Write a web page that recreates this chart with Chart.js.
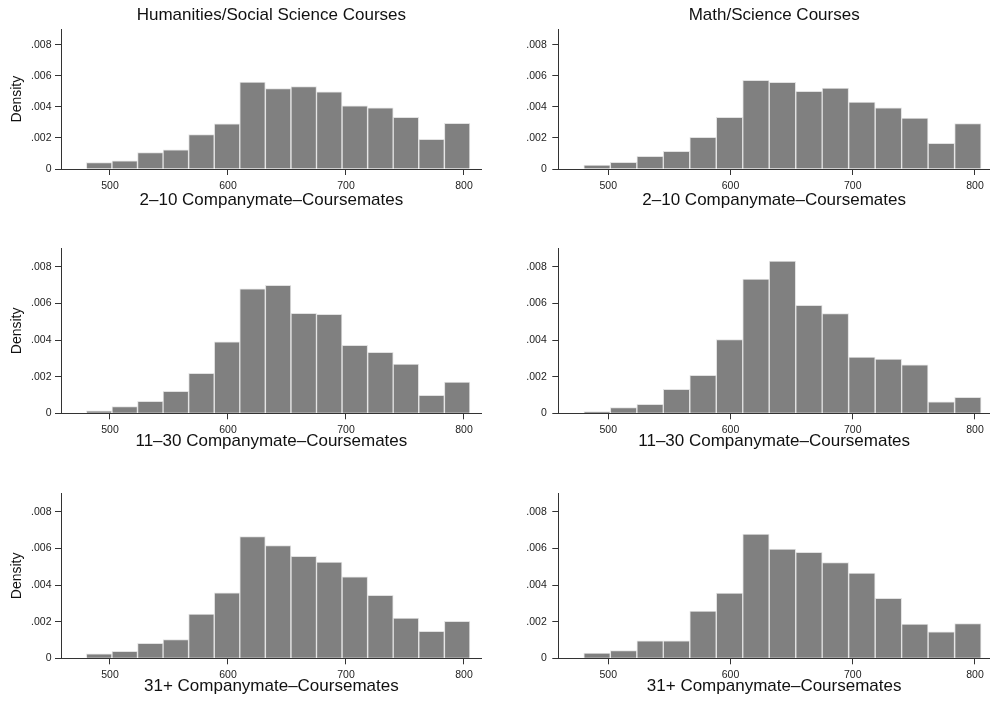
<!DOCTYPE html>
<html>
<head>
<meta charset="utf-8">
<script src="https://cdn.jsdelivr.net/npm/chart.js@4.4.1/dist/chart.umd.min.js"></script>
<style>
body { margin: 0; background: #fff; }
#wrap { position: relative; width: 990px; height: 702px; overflow: hidden; }
.cell { position: absolute; }
</style>
</head>
<body>
<div id="wrap"></div>
<script>
// histogram bins (midpoints, ~21.7 points wide, 480 to 805)
var binMid = [490.8, 512.5, 534.2, 555.8, 577.5, 599.2, 620.8, 642.5, 664.2, 685.8, 707.5, 729.2, 750.8, 772.5, 794.2];

// densities
var humSmall  = [0.00041, 0.00052, 0.00105, 0.00124, 0.00221, 0.00290, 0.00560, 0.00517, 0.00530, 0.00496, 0.00406, 0.00393, 0.00333, 0.00191, 0.00294];
var mathSmall = [0.00026, 0.00043, 0.00082, 0.00114, 0.00204, 0.00333, 0.00571, 0.00558, 0.00500, 0.00521, 0.00431, 0.00393, 0.00328, 0.00165, 0.00292];
var humMid    = [0.00013, 0.00036, 0.00065, 0.00120, 0.00218, 0.00390, 0.00680, 0.00698, 0.00545, 0.00540, 0.00371, 0.00333, 0.00269, 0.00098, 0.00171];
var mathMid   = [0.00009, 0.00031, 0.00049, 0.00131, 0.00207, 0.00402, 0.00733, 0.00831, 0.00589, 0.00544, 0.00307, 0.00296, 0.00264, 0.00062, 0.00087];
var humLarge  = [0.00024, 0.00038, 0.00082, 0.00102, 0.00242, 0.00358, 0.00664, 0.00615, 0.00556, 0.00525, 0.00445, 0.00344, 0.00220, 0.00147, 0.00202];
var mathLarge = [0.00029, 0.00042, 0.00095, 0.00096, 0.00258, 0.00356, 0.00678, 0.00596, 0.00578, 0.00522, 0.00465, 0.00327, 0.00187, 0.00145, 0.00189];

var xTicks = [500, 600, 700, 800];
var yTicks = [0, 0.002, 0.004, 0.006, 0.008];
var yTickLabels = ['0', '.002', '.004', '.006', '.008'];

var colTitles = ['Humanities/Social Science Courses', 'Math/Science Courses'];
var rowTitles = ['2\u201310 Companymate\u2013Coursemates', '11\u201330 Companymate\u2013Coursemates', '31+ Companymate\u2013Coursemates'];

var FONT = '"Liberation Sans", Arial, Helvetica, sans-serif';

// layout of the 3x2 grid
var rowTop = [0, 235, 480];
var rowH = [215, 220, 222];
var axisH = [46, 41.7, 43.7];
var xTitlePad = [4.6, 3.8, 5.8];
var colLeft = [0, 495];
var yAxisW = [61, 63.3];
var yTickPad = [3.5, 5.5];
var padRight = [13.3, 0];
var xMin = [458.5, 459.1];
var xMax = [815, 812.3];

var panels = [
    { row: 0, col: 0, values: humSmall },
    { row: 0, col: 1, values: mathSmall },
    { row: 1, col: 0, values: humMid },
    { row: 1, col: 1, values: mathMid },
    { row: 2, col: 0, values: humLarge },
    { row: 2, col: 1, values: mathLarge }
];

var wrap = document.getElementById('wrap');

function makePanel(p) {
    var div = document.createElement('div');
    div.className = 'cell';
    div.style.left = colLeft[p.col] + 'px';
    div.style.top = rowTop[p.row] + 'px';
    var cv = document.createElement('canvas');
    cv.width = 495;
    cv.height = rowH[p.row];
    div.appendChild(cv);
    wrap.appendChild(div);

    var points = [];
    for (var i = 0; i < binMid.length; i++) {
        points.push({ x: binMid[i], y: p.values[i] });
    }

    new Chart(cv.getContext('2d'), {
        type: 'bar',
        data: {
            datasets: [{
                data: points,
                backgroundColor: '#808080',
                borderColor: '#e2e2e2',
                borderWidth: 1,
                barPercentage: 1,
                categoryPercentage: 1
            }]
        },
        options: {
            responsive: false,
            animation: false,
            layout: { padding: { top: p.row == 0 ? 0 : 13.4, right: padRight[p.col], left: 0, bottom: 0 } },
            plugins: {
                legend: { display: false },
                tooltip: { enabled: false },
                title: {
                    display: p.row == 0,
                    text: colTitles[p.col],
                    fullSize: false,
                    color: '#111',
                    font: { size: 17, family: FONT, weight: 'normal' },
                    padding: { top: 5.3, bottom: 3.5 }
                }
            },
            scales: {
                x: {
                    type: 'linear',
                    min: xMin[p.col],
                    max: xMax[p.col],
                    offset: false,
                    afterBuildTicks: function (s) { s.ticks = xTicks.map(function (v) { return { value: v }; }); },
                    afterFit: function (s) { s.height = axisH[p.row]; },
                    grid: { drawOnChartArea: false, drawTicks: true, tickLength: 6, color: '#333', offset: false },
                    border: { display: true, color: '#333', width: 1 },
                    ticks: {
                        font: { size: 10.5, family: FONT },
                        color: '#222',
                        padding: 4.5,
                        maxRotation: 0,
                        autoSkip: false,
                        callback: function (v) { return String(v); }
                    },
                    title: {
                        display: true,
                        text: rowTitles[p.row],
                        color: '#111',
                        font: { size: 17, family: FONT },
                        padding: { top: 0, bottom: xTitlePad[p.row] }
                    }
                },
                y: {
                    min: 0,
                    max: 0.009,
                    afterBuildTicks: function (s) { s.ticks = yTicks.map(function (v) { return { value: v }; }); },
                    afterFit: function (s) { s.width = yAxisW[p.col]; },
                    grid: { drawOnChartArea: false, drawTicks: true, tickLength: 6, color: '#333' },
                    border: { display: true, color: '#333', width: 1 },
                    ticks: {
                        font: { size: 10.5, family: FONT },
                        color: '#222',
                        padding: yTickPad[p.col],
                        callback: function (v, idx) { return yTickLabels[idx]; }
                    },
                    title: {
                        display: p.col == 0,
                        text: 'Density',
                        color: '#111',
                        font: { size: 14, family: FONT },
                        padding: { top: 8.4, bottom: 0 }
                    }
                }
            }
        }
    });
}

panels.forEach(makePanel);
</script>
</body>
</html>
